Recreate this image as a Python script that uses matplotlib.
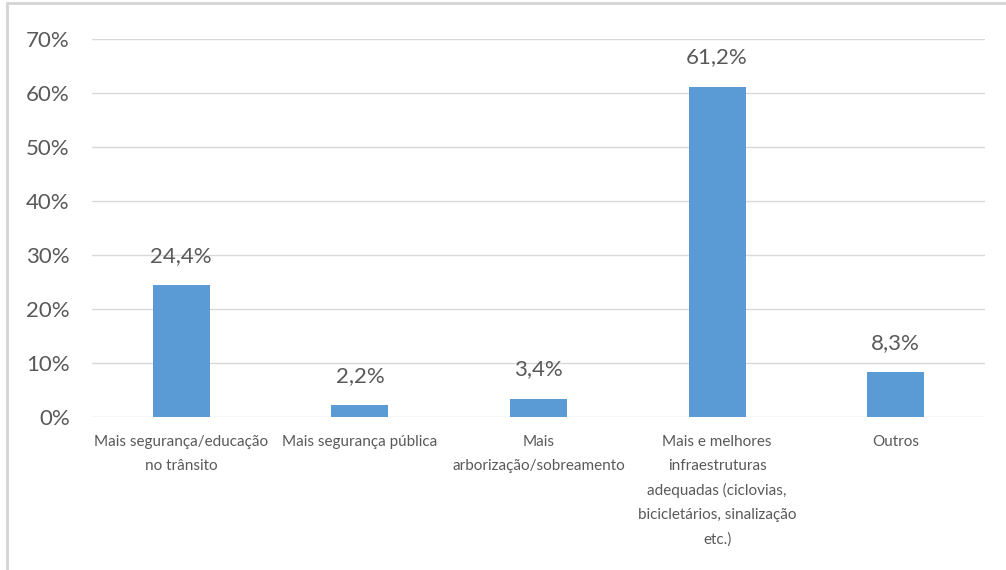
import matplotlib.pyplot as plt
from matplotlib.patches import Rectangle

categorias = ['Mais segurança/educação\nno trânsito',
              'Mais segurança pública',
              'Mais\narborização/sobreamento',
              'Mais e melhores\ninfraestruturas\nadequadas (ciclovias,\nbicicletários, sinalização\netc.)',
              'Outros']
valores = [24.4, 2.2, 3.4, 61.2, 8.3]
rotulos = ['24,4%', '2,2%', '3,4%', '61,2%', '8,3%']
yticks = [0, 10, 20, 30, 40, 50, 60, 70]

cinza = '#595959'
azul = '#5B9BD5'

plt.rcParams['font.family'] = ['Lato', 'DejaVu Sans']

fig = plt.figure(figsize=(10.06, 5.7), dpi=100)
ax = fig.add_axes([92 / 1006, 1 - 417 / 570, 893 / 1006, 378 / 570])

x = list(range(len(categorias)))
ax.bar(x, valores, width=0.32, color=azul, zorder=3)
for xi, v, r in zip(x, valores, rotulos):
    ax.annotate(r, (xi, v), xytext=(0, 14), textcoords='offset points',
                ha='center', va='bottom', fontsize=16, color=cinza)

ax.set_xlim(-0.5, len(categorias) - 0.5)
ax.set_ylim(0, 70)
ax.set_yticks(yticks)
ax.set_yticklabels([f'{t}%' for t in yticks], fontsize=16, color=cinza)
ax.set_xticks(x)
ax.set_xticklabels(categorias, fontsize=11, color=cinza, linespacing=1.88, va='top')
ax.tick_params(axis='both', length=0)
ax.tick_params(axis='y', pad=16)
ax.tick_params(axis='x', pad=13)
ax.grid(axis='y', color='#D9D9D9', linewidth=1, zorder=0)
for s in ax.spines.values():
    s.set_visible(False)

# moldura cinza do gráfico (cortada na imagem original)
fig.add_artist(Rectangle((7 / 1006, -0.05), 1.2, 1 - 3 / 570 + 0.05,
                         transform=fig.transFigure, fill=False,
                         edgecolor='#D4D4D4', linewidth=2))

fig.savefig('out.png', dpi=100)
